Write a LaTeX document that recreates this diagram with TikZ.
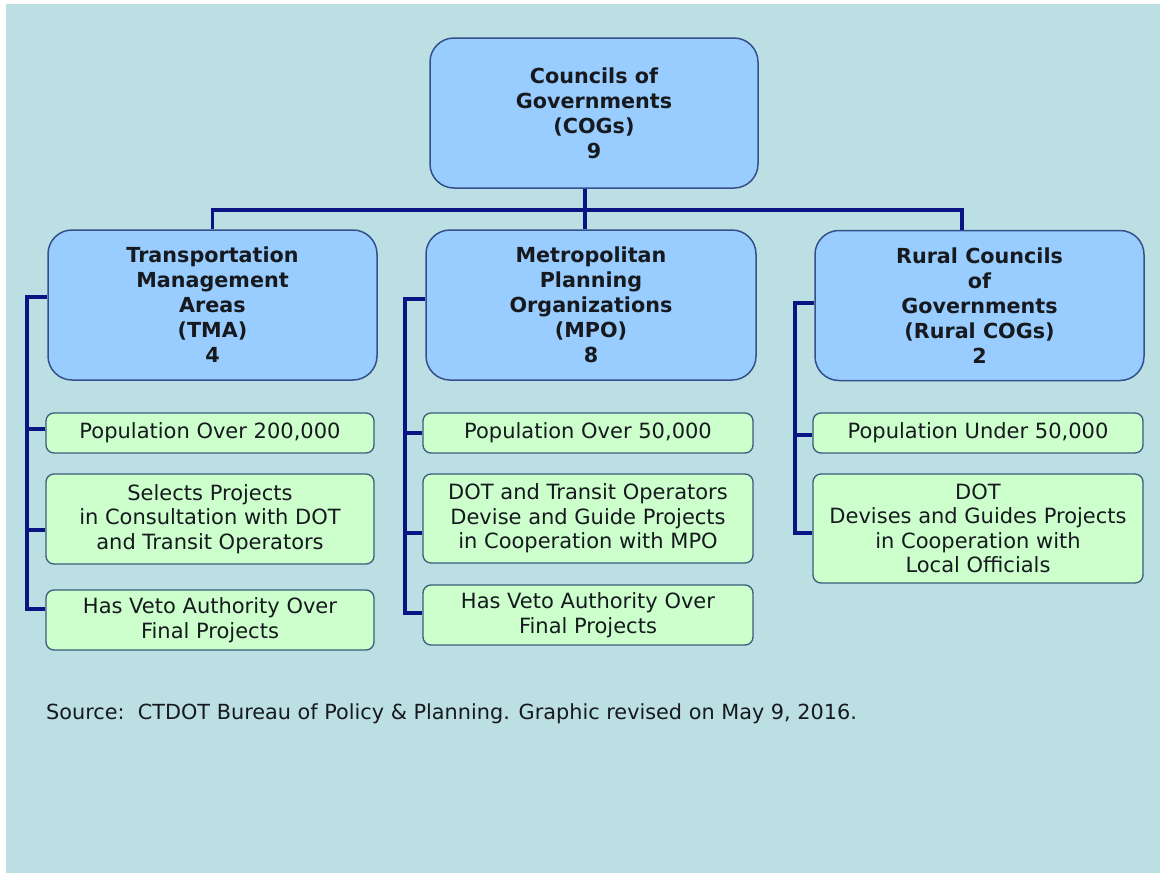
\documentclass[tikz,border=0pt]{standalone}
\usepackage{fontspec}
\setmainfont{DejaVu Sans}
\definecolor{bgteal}{RGB}{187,223,227}
\definecolor{bluefill}{RGB}{153,204,255}
\definecolor{blueedge}{RGB}{52,80,138}
\definecolor{greenfill}{RGB}{204,255,204}
\definecolor{greenedge}{RGB}{59,91,123}
\definecolor{navy}{RGB}{10,20,130}
\definecolor{txt}{RGB}{22,26,30}
\tikzset{
  headbox/.style={draw=blueedge, line width=1.5pt, fill=bluefill, rounded corners=24pt,
    minimum width=329pt, minimum height=150pt, inner sep=0pt, align=center, text=txt,
    font=\bfseries\fontsize{20.7}{25}\selectfont},
  itembox/.style={draw=greenedge, line width=1.3pt, fill=greenfill, rounded corners=8pt,
    minimum width=328pt, inner sep=0pt, align=center, text=txt,
    font=\fontsize{21}{24.5}\selectfont},
  conn/.style={draw=navy, line width=3.3pt, line join=miter},
  srcnote/.style={anchor=west, inner sep=0pt, text=txt, font=\fontsize{20.8}{24}\selectfont}
}
\begin{document}
\begin{tikzpicture}[x=1pt, y=-1pt]
\useasboundingbox (0,0) rectangle (1160,873);
\fill[white] (0,0) rectangle (1160,873);
\fill[bgteal] (6,4) rectangle (1160,873);

% top
\node[headbox, minimum width=328pt] (cog) at (594,113) {Councils of\\Governments\\(COGs)\\9};

% second level
\node[headbox] (tma) at (212.5,305) {Transportation\\Management\\Areas\\(TMA)\\4};
\node[headbox, minimum width=330pt] (mpo) at (591,305) {Metropolitan\\Planning\\Organizations\\(MPO)\\8};
\node[headbox] (rur) at (979.5,305.5) {Rural Councils\\of\\Governments\\(Rural COGs)\\2};

% TMA items
\node[itembox, minimum height=40pt] (tp) at (210,433) {Population Over 200,000};
\node[itembox, minimum height=90pt] (ts) at (210,519) {Selects Projects\\in Consultation with DOT\\and Transit Operators};
\node[itembox, minimum height=60pt] (tv) at (210,620) {Has Veto Authority Over\\Final Projects};

% MPO items
\node[itembox, minimum height=40pt, minimum width=330pt] (mp) at (588,433) {Population Over 50,000};
\node[itembox, minimum height=89pt, minimum width=330pt] (md) at (588,518.5) {DOT and Transit Operators\\Devise and Guide Projects\\in Cooperation with MPO};
\node[itembox, minimum height=60pt, minimum width=330pt] (mv) at (588,615) {Has Veto Authority Over\\Final Projects};

% Rural items
\node[itembox, minimum height=40pt, minimum width=330pt] (rp) at (978,433) {Population Under 50,000};
\node[itembox, minimum height=109pt, minimum width=330pt] (rd) at (978,528.5) {DOT\\Devises and Guides Projects\\in Cooperation with\\Local Officials};

% source note
\node[srcnote] (src) at (46,714) {Source:\ \ CTDOT Bureau of Policy \& Planning. Graphic revised on May 9, 2016.};

% top connectors
\coordinate (hb) at (0,210);
\coordinate (c1) at ([xshift=-9pt]cog.south);
\coordinate (m1) at ([xshift=-6pt]mpo.north);
\coordinate (r1) at ([xshift=-17.5pt]rur.north);
\draw[conn] (c1) -- (m1);
\draw[conn] (tma.north) |- (r1 |- hb) -- (r1);

% TMA bus
\coordinate (tb) at (27,0);
\coordinate (ta) at ([yshift=8pt]tma.west);
\coordinate (t1) at ([yshift=4pt]tp.west);
\coordinate (t2) at ([yshift=-11pt]ts.west);
\coordinate (t3) at ([yshift=11pt]tv.west);
\draw[conn] (ta) -- (ta -| tb) |- (t3);
\draw[conn] (t1) -- (t1 -| tb);
\draw[conn] (t2) -- (t2 -| tb);

% MPO bus
\coordinate (mb) at (405,0);
\coordinate (ma) at ([yshift=6pt]mpo.west);
\coordinate (mq1) at (mp.west);
\coordinate (mq2) at ([yshift=-14.5pt]md.west);
\coordinate (mq3) at ([yshift=2pt]mv.west);
\draw[conn] (ma) -- (ma -| mb) |- (mq3);
\draw[conn] (mq1) -- (mq1 -| mb);
\draw[conn] (mq2) -- (mq2 -| mb);

% Rural bus
\coordinate (rb) at (795,0);
\coordinate (ra) at ([yshift=2.5pt]rur.west);
\coordinate (rq1) at ([yshift=-2pt]rp.west);
\coordinate (rq2) at ([yshift=-4.5pt]rd.west);
\draw[conn] (ra) -- (ra -| rb) |- (rq2);
\draw[conn] (rq1) -- (rq1 -| rb);
\end{tikzpicture}
\end{document}
